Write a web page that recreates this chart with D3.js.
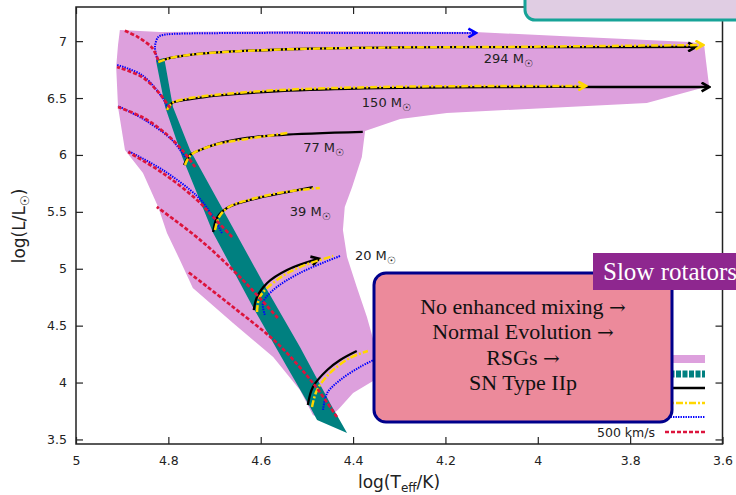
<!DOCTYPE html>
<html>
<head>
<meta charset="utf-8">
<script src="https://cdn.jsdelivr.net/npm/d3@7"></script>
<style>
  body { margin: 0; background: #fff; }
  svg { display: block; font-family: "DejaVu Sans", sans-serif; }
</style>
</head>
<body>
<svg id="canvas"></svg>
<script>
// tick values
let xTicks = [5, 4.8, 4.6, 4.4, 4.2, 4, 3.8, 3.6];
let yTicks = [3.5, 4, 4.5, 5, 5.5, 6, 6.5, 7];

// shaded region covered by all tracks, [logTeff, logL]
let envelope = [
  [4.905, 7.098], [4.818, 7.080], [4.515, 7.089], [4.136, 7.080], [3.952, 7.045],
  [3.670, 6.992], [3.640, 6.975], [3.636, 6.834], [3.629, 6.606], [3.764, 6.456],
  [4.197, 6.369], [4.298, 6.316], [4.374, 6.210], [4.381, 5.982], [4.402, 5.718],
  [4.418, 5.543], [4.422, 5.341], [4.413, 5.103], [4.392, 4.840], [4.370, 4.576],
  [4.353, 4.330], [4.346, 4.040], [4.400, 3.908], [4.433, 3.759], [4.461, 3.671],
  [4.487, 3.715], [4.515, 3.935], [4.573, 4.225], [4.660, 4.523], [4.747, 4.831],
  [4.775, 5.077], [4.803, 5.314], [4.822, 5.543], [4.855, 5.841], [4.894, 6.043],
  [4.909, 6.421], [4.913, 6.773], [4.909, 6.966]
];

// ZAMS band: blue edge top to bottom, then red edge bottom to top
let zamsLeft = [
  [4.827, 6.834], [4.807, 6.421], [4.770, 5.982], [4.703, 5.314], [4.617, 4.664],
  [4.543, 4.137], [4.493, 3.785], [4.478, 3.671], [4.413, 3.557]
];
let zamsRight = [
  [4.450, 3.820], [4.465, 3.935], [4.515, 4.312], [4.586, 4.813], [4.673, 5.455],
  [4.753, 6.043], [4.790, 6.421], [4.809, 6.852]
];

// tracks, one per mass: 294, 150, 77, 39, 20, 12
let blackTracks = [
  [[4.822, 6.817], [4.796, 6.852], [4.757, 6.878], [4.677, 6.905], [4.515, 6.931], [4.298, 6.945], [4.082, 6.947], [3.865, 6.948], [3.660, 6.949]],
  [[4.803, 6.395], [4.792, 6.456], [4.764, 6.483], [4.721, 6.509], [4.677, 6.527], [4.558, 6.562], [4.342, 6.588], [4.082, 6.597], [3.865, 6.597], [3.631, 6.597]],
  [[4.766, 5.912], [4.753, 6.000], [4.731, 6.043], [4.703, 6.087], [4.630, 6.149], [4.558, 6.175], [4.379, 6.202]],
  [[4.703, 5.323], [4.695, 5.446], [4.673, 5.534], [4.623, 5.604], [4.552, 5.666], [4.487, 5.718]],
  [[4.615, 4.637], [4.608, 4.752], [4.586, 4.875], [4.543, 4.989], [4.476, 5.086]],
  [[4.498, 3.803], [4.487, 3.961], [4.456, 4.110], [4.428, 4.198], [4.392, 4.277]]
];
let goldTracks = [
  [[4.822, 6.817], [4.796, 6.852], [4.757, 6.878], [4.677, 6.905], [4.515, 6.931], [4.298, 6.945], [4.082, 6.949], [3.865, 6.957], [3.644, 6.966]],
  [[4.803, 6.395], [4.792, 6.456], [4.764, 6.492], [4.721, 6.518], [4.677, 6.536], [4.558, 6.571], [4.342, 6.597], [4.082, 6.606], [3.898, 6.606]],
  [[4.764, 5.912], [4.751, 6.000], [4.701, 6.087], [4.630, 6.140], [4.541, 6.193]],
  [[4.699, 5.340], [4.690, 5.455], [4.669, 5.543], [4.619, 5.613], [4.547, 5.675], [4.472, 5.710]],
  [[4.608, 4.620], [4.602, 4.752], [4.565, 4.901], [4.515, 5.015], [4.443, 5.112]],
  [[4.489, 3.785], [4.478, 3.935], [4.450, 4.084], [4.407, 4.216], [4.368, 4.277]]
];
let blueTracks = [
  [[4.822, 6.817], [4.829, 6.949], [4.822, 7.036], [4.812, 7.054], [4.792, 7.063], [4.623, 7.072], [4.407, 7.072], [4.136, 7.072]],
  [[4.801, 6.413], [4.814, 6.509], [4.857, 6.702], [4.911, 6.790]],
  [[4.764, 5.982], [4.792, 6.131], [4.851, 6.307], [4.909, 6.430]],
  [[4.684, 5.314], [4.710, 5.499], [4.738, 5.639], [4.812, 5.868], [4.887, 6.035]],
  [[4.591, 4.594], [4.595, 4.699], [4.573, 4.813], [4.515, 4.963], [4.428, 5.112]],
  [[4.465, 3.759], [4.456, 3.908], [4.428, 4.022], [4.385, 4.137], [4.346, 4.216]]
];
let redTracks = [
  [[4.822, 6.834], [4.835, 6.940], [4.866, 7.036], [4.898, 7.098]],
  [[4.796, 6.413], [4.822, 6.553], [4.857, 6.685], [4.911, 6.773]],
  [[4.742, 5.894], [4.770, 6.043], [4.807, 6.193], [4.857, 6.333], [4.909, 6.421]],
  [[4.662, 5.279], [4.703, 5.455], [4.738, 5.604], [4.812, 5.841], [4.887, 6.026]],
  [[4.563, 4.567], [4.645, 4.927], [4.731, 5.253], [4.825, 5.543]],
  [[4.435, 3.697], [4.487, 3.996], [4.565, 4.348], [4.660, 4.664], [4.757, 4.971]]
];

// which tracks end with an arrow head
let blackArrows = [0, 1, 4];
let goldArrows = [0, 1];
let blueArrows = [0];

let massLabels = ["294", "150", "77", "39", "20"];
let labelAt = [[4.117, 6.808], [4.381, 6.421], [4.508, 6.026], [4.537, 5.464], [4.396, 5.077]];

let legendText = "500 km/s";
let boxLines = ["No enhanced mixing \u2192", "Normal Evolution \u2192", "RSGs \u2192", "SN Type IIp"];
let tagText = "Slow rotators";

let width = 736;
let height = 495;
let plotLeft = 76, plotRight = 722.5, plotTop = 7, plotBottom = 444;

let canvas = d3.select("#canvas").attr("width", width).attr("height", height);

let xScale = d3.scaleLinear().domain([5, 3.6]).range([plotLeft, plotRight]);
let yScale = d3.scaleLinear().domain([3.46, 7.30]).range([plotBottom, plotTop]);

let line = d3.line()
  .x((d) => xScale(d[0]))
  .y((d) => yScale(d[1]))
  .curve(d3.curveCatmullRom.alpha(0.5));

let closed = d3.line()
  .x((d) => xScale(d[0]))
  .y((d) => yScale(d[1]))
  .curve(d3.curveLinearClosed);

let defs = canvas.append("defs");
defs.append("clipPath").attr("id", "plot")
  .append("rect")
  .attr("x", plotLeft).attr("y", plotTop)
  .attr("width", plotRight - plotLeft).attr("height", plotBottom - plotTop);

let addArrow = (id, color) => {
  defs.append("marker")
    .attr("id", id)
    .attr("viewBox", "0 0 10 10")
    .attr("refX", 7).attr("refY", 5)
    .attr("markerUnits", "userSpaceOnUse")
    .attr("markerWidth", 11).attr("markerHeight", 11)
    .attr("orient", "auto")
    .append("path")
    .attr("d", "M1,1 L8,5 L1,9")
    .attr("fill", "none")
    .attr("stroke", color)
    .attr("stroke-width", 2.4);
};
addArrow("arrowBlack", "#000");
addArrow("arrowGold", "#ffd700");
addArrow("arrowBlue", "#0000ff");

let plot = canvas.append("g").attr("clip-path", "url(#plot)");

// envelope
plot.append("path")
  .attr("d", closed(envelope))
  .attr("fill", "#dda0dd");

// ZAMS band
plot.append("path")
  .attr("d", closed(zamsLeft.concat(zamsRight)))
  .attr("fill", "#008080");

let drawTracks = (tracks, color, widthPx, dash, arrows, marker) => {
  plot.append("g")
    .selectAll("path")
    .data(tracks)
    .enter()
    .append("path")
    .attr("d", line)
    .attr("fill", "none")
    .attr("stroke", color)
    .attr("stroke-width", widthPx)
    .attr("stroke-dasharray", dash)
    .attr("marker-end", (d, i) => (arrows.includes(i) ? "url(#" + marker + ")" : null));
};

drawTracks(blueTracks, "#0000ff", 2, "1.4 1.1", blueArrows, "arrowBlue");
drawTracks(blackTracks, "#000", 2.3, null, blackArrows, "arrowBlack");
drawTracks(goldTracks, "#ffd700", 2.5, "7 2 2 2", goldArrows, "arrowGold");
drawTracks(redTracks, "#dc143c", 2.7, "4 2", [], null);

// mass labels
let labels = canvas.append("g")
  .selectAll("text")
  .data(massLabels)
  .enter()
  .append("text")
  .attr("x", (d, i) => xScale(labelAt[i][0]))
  .attr("y", (d, i) => yScale(labelAt[i][1]))
  .attr("font-size", 13)
  .attr("fill", "#222");
labels.append("tspan").text((d) => d + " M");
labels.append("tspan").attr("dy", 4).attr("font-size", 10).text("\u2609");

// axes
let xAxis = d3.axisBottom(xScale).tickValues(xTicks).tickFormat(d3.format("~g"))
  .tickSizeInner(-7).tickSizeOuter(0).tickPadding(12);
let yAxis = d3.axisLeft(yScale).tickValues(yTicks).tickFormat(d3.format("~g"))
  .tickSizeInner(-7).tickSizeOuter(0).tickPadding(9);
let xTop = d3.axisTop(xScale).tickValues(xTicks).tickSizeInner(-7).tickSizeOuter(0).tickFormat("");
let yRight = d3.axisRight(yScale).tickValues(yTicks).tickSizeInner(-7).tickSizeOuter(0).tickFormat("");

let axes = [
  canvas.append("g").attr("transform", "translate(0," + plotBottom + ")").call(xAxis),
  canvas.append("g").attr("transform", "translate(" + plotLeft + ",0)").call(yAxis),
  canvas.append("g").attr("transform", "translate(0," + plotTop + ")").call(xTop),
  canvas.append("g").attr("transform", "translate(" + plotRight + ",0)").call(yRight)
];
axes.forEach((g) => {
  g.select(".domain").remove();
  g.selectAll("line").attr("stroke", "#222").attr("stroke-width", 1.2);
  g.selectAll("text").attr("font-family", "DejaVu Sans").attr("font-size", 12.5).attr("fill", "#222");
});

canvas.append("rect")
  .attr("x", plotLeft).attr("y", plotTop)
  .attr("width", plotRight - plotLeft).attr("height", plotBottom - plotTop)
  .attr("fill", "none")
  .attr("stroke", "#222")
  .attr("stroke-width", 1.5);

// axis titles
let xTitle = canvas.append("text")
  .attr("x", 399).attr("y", 488)
  .attr("text-anchor", "middle")
  .attr("font-size", 17)
  .attr("fill", "#222");
xTitle.append("tspan").text("log(T");
xTitle.append("tspan").attr("dy", 4).attr("font-size", 12).text("eff");
xTitle.append("tspan").attr("dy", -4).text("/K)");

let yTitle = canvas.append("text")
  .attr("transform", "translate(25,226) rotate(-90)")
  .attr("text-anchor", "middle")
  .attr("font-size", 17)
  .attr("fill", "#222");
yTitle.append("tspan").text("log(L/L");
yTitle.append("tspan").attr("dy", 4).attr("font-size", 12).text("\u2609");
yTitle.append("tspan").attr("dy", -4).text(")");

// legend samples (mostly under the note box)
let lx0 = 663, lx1 = 705;
canvas.append("rect").attr("x", lx0).attr("y", 355).attr("width", lx1 - lx0).attr("height", 8).attr("fill", "#dda0dd");
canvas.append("line").attr("x1", lx0).attr("x2", lx1).attr("y1", 374).attr("y2", 374)
  .attr("stroke", "#008080").attr("stroke-width", 7).attr("stroke-dasharray", "5 1.5");
canvas.append("line").attr("x1", lx0).attr("x2", lx1).attr("y1", 388).attr("y2", 388)
  .attr("stroke", "#000").attr("stroke-width", 2.3);
canvas.append("line").attr("x1", lx0).attr("x2", lx1).attr("y1", 403).attr("y2", 403)
  .attr("stroke", "#ffd700").attr("stroke-width", 2.5).attr("stroke-dasharray", "7 2 2 2");
canvas.append("line").attr("x1", lx0).attr("x2", lx1).attr("y1", 417).attr("y2", 417)
  .attr("stroke", "#0000ff").attr("stroke-width", 2).attr("stroke-dasharray", "1.4 1.1");
canvas.append("line").attr("x1", 665).attr("x2", lx1).attr("y1", 432).attr("y2", 432)
  .attr("stroke", "#dc143c").attr("stroke-width", 2.7).attr("stroke-dasharray", "4 2");
canvas.append("text")
  .attr("x", 655).attr("y", 437)
  .attr("text-anchor", "end")
  .attr("font-size", 12.5)
  .attr("fill", "#222")
  .text(legendText);

// note box
canvas.append("rect")
  .attr("x", 374).attr("y", 273).attr("width", 298).attr("height", 149).attr("rx", 12)
  .attr("fill", "#ec8a9b")
  .attr("stroke", "#00008b")
  .attr("stroke-width", 3);
let boxText = canvas.append("g")
  .selectAll("text")
  .data(boxLines)
  .enter()
  .append("text")
  .attr("x", 523)
  .attr("y", (d, i) => 314 + i * 25.3)
  .attr("text-anchor", "middle")
  .attr("font-family", "Liberation Serif, serif")
  .attr("font-size", 22)
  .attr("fill", "#111");
// words in the serif face, arrows in a face with a long arrow glyph
boxText.each(function (d) {
  let parts = d.split("\u2192");
  let t = d3.select(this);
  t.append("tspan").text(parts[0]);
  if (parts.length > 1) {
    t.append("tspan").attr("font-family", "DejaVu Serif").attr("font-size", 20).text("\u2192");
  }
});

// tag
canvas.append("rect")
  .attr("x", 593).attr("y", 253).attr("width", 160).attr("height", 37)
  .attr("fill", "#8e278f");
canvas.append("text")
  .attr("x", 603).attr("y", 280)
  .attr("font-family", "Liberation Serif, serif")
  .attr("font-size", 25)
  .attr("fill", "#fff")
  .text(tagText);

// box cut by the top edge
canvas.append("rect")
  .attr("x", 525).attr("y", -30).attr("width", 240).attr("height", 50).attr("rx", 10)
  .attr("fill", "#e0cde3")
  .attr("stroke", "#17a398")
  .attr("stroke-width", 3);
</script>
</body>
</html>
